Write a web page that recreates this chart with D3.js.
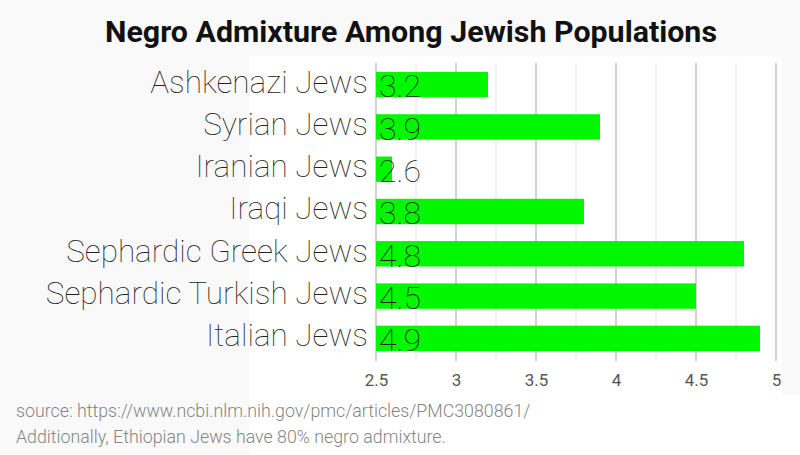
<!DOCTYPE html>
<html>
<head>
<meta charset="utf-8">
<script src="https://cdn.jsdelivr.net/npm/d3@7"></script>
<style>
html,body{margin:0;padding:0;background:#f9f9f9;}
svg{display:block;}
</style>
</head>
<body>
<svg id="chart" width="800" height="455"></svg>
<script>
const categories = ["Ashkenazi Jews","Syrian Jews","Iranian Jews","Iraqi Jews","Sephardic Greek Jews","Sephardic Turkish Jews","Italian Jews"];
const values = [3.2, 3.9, 2.6, 3.8, 4.8, 4.5, 4.9];
const valueLabels = ["3.2","3.9","2.6","3.8","4.8","4.5","4.9"];
const majorTicks = [2.5, 3, 3.5, 4, 4.5, 5];
const minorTicks = [2.75, 3.25, 3.75, 4.25, 4.75];
const titleText = "Negro Admixture Among Jewish Populations";
const footerLines = ["source: https://www.ncbi.nlm.nih.gov/pmc/articles/PMC3080861/","Additionally, Ethiopian Jews have 80% negro admixture."];

const svg = d3.select("#chart");
// white panels
svg.append("rect").attr("x",250).attr("y",56).attr("width",532).attr("height",345).attr("fill","#ffffff");
svg.append("rect").attr("x",250).attr("y",395).attr("width",550).attr("height",60).attr("fill","#ffffff");

const x = d3.scaleLinear().domain([2.5,5]).range([376,776]);
const y = d3.scaleBand().domain(categories).range([63.5,359.5]).paddingInner(0.4).paddingOuter(0.2);

// minor grid
svg.append("g").selectAll("line").data(minorTicks).join("line")
  .attr("x1",d=>x(d)).attr("x2",d=>x(d)).attr("y1",63).attr("y2",359)
  .attr("stroke","#ebebeb").attr("stroke-width",1.5);
// major grid
svg.append("g").selectAll("line").data(majorTicks).join("line")
  .attr("x1",d=>x(d)).attr("x2",d=>x(d)).attr("y1",63).attr("y2",361)
  .attr("stroke","#d2d2d2").attr("stroke-width",2);

// bars
svg.append("g").selectAll("rect").data(values).join("rect")
  .attr("x",x(2.5)).attr("y",(d,i)=>y(categories[i]))
  .attr("width",d=>x(d)-x(2.5)).attr("height",y.bandwidth())
  .attr("fill","#00f700");

// value labels
svg.append("g").selectAll("text").data(valueLabels).join("text")
  .attr("x",x(2.5)+3).attr("y",(d,i)=>y(categories[i])+y.bandwidth()/2)
  .attr("dy","0.4em")
  .attr("font-family","Roboto").attr("font-weight",100).attr("font-size",32)
  .attr("fill","#222").text(d=>d);

// category labels
svg.append("g").selectAll("text").data(categories).join("text")
  .attr("x",368).attr("y",d=>y(d)+y.bandwidth()/2)
  .attr("dy","0.25em").attr("text-anchor","end")
  .attr("font-family","Roboto").attr("font-weight",100).attr("font-size",31.5)
  .attr("fill","#222").text(d=>d);

// x axis
const axis = d3.axisBottom(x).tickValues(majorTicks).tickSize(0).tickPadding(0).tickFormat(d3.format("~g"));
const ax = svg.append("g").attr("transform","translate(0,374)").call(axis);
ax.select(".domain").remove();
ax.selectAll("text").attr("font-family","Roboto").attr("font-size",17).attr("fill","#555").attr("dy","0.71em");

// title
svg.append("text").attr("x",411).attr("y",42).attr("text-anchor","middle")
  .attr("font-family","Roboto").attr("font-weight",700).attr("font-size",29)
  .attr("textLength",612).attr("lengthAdjust","spacingAndGlyphs")
  .attr("fill","#111").text(titleText);

// footer
svg.append("g").selectAll("text").data(footerLines).join("text")
  .attr("x",16).attr("y",(d,i)=>417+i*26)
  .attr("font-family","Roboto").attr("font-weight",300).attr("font-size",17.8)
  .attr("fill","#858585").text(d=>d);
</script>
</body>
</html>
